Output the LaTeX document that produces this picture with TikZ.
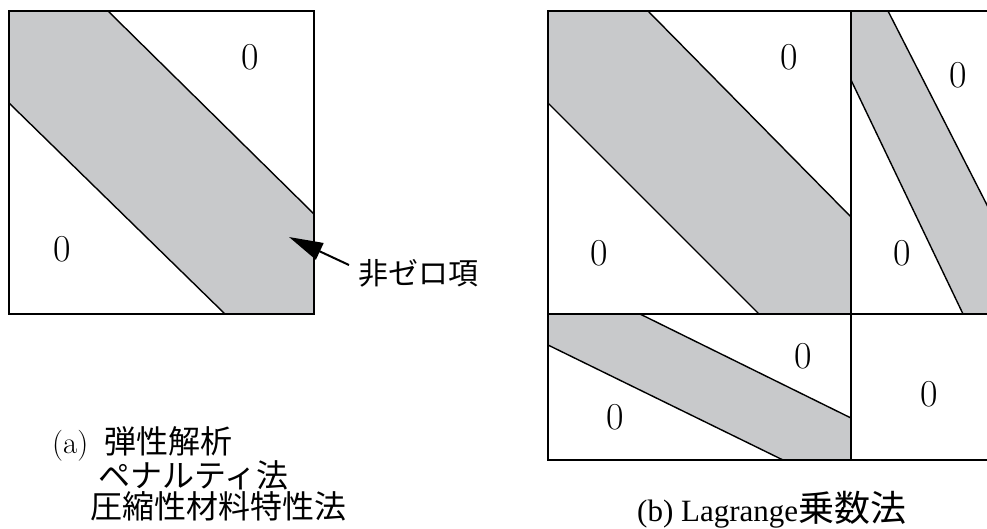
\documentclass[tikz,border=0pt]{standalone}
\usepackage{fontspec}
\newfontfamily\jp{Noto Sans CJK JP}
\newfontfamily\capser{Liberation Serif}
\usetikzlibrary{arrows.meta}
\definecolor{bandgray}{RGB}{200,201,203}
\begin{document}
\begin{tikzpicture}[x=1pt,y=-1pt,
  boxline/.style={line width=2pt,line join=miter},
  edge/.style={line width=1.4pt},
  bandfill/.style={fill=bandgray},
  zero/.style={inner sep=0pt,font=\fontsize{38}{40}\selectfont},
  lat/.style={anchor=base west,inner sep=0pt},
  arr/.style={line width=2pt,-{Triangle[length=34pt,width=18pt]}}]
\useasboundingbox (0,0) rectangle (987,528);
\clip (0,0) rectangle (987,528);

% ---------- (a) ----------
\fill[bandfill] (9,11) -- (108,11) -- (314,214) -- (314,314) -- (225,314) -- (9,103) -- cycle;
\draw[edge] (108,11) -- (314,214);
\draw[edge] (9,103) -- (225,314);
\draw[boxline] (9,11) rectangle (314,314);
\node[zero] (za1) at (250,57) {0};
\node[zero] (za2) at (62,249) {0};

\node[lat,font=\jp\fontsize{30}{30}\selectfont] (lblA) at (358,284) {非ゼロ項};
\coordinate (tailA) at (349,265);
\coordinate (tipA) at (289,237);
\draw[arr] (tailA) -- (tipA);

\node[lat,font=\fontsize{31}{31}\selectfont] (capa) at (52,453) {(a)};
\node[lat,font=\jp\fontsize{32}{32}\selectfont] (capa1) at (104,453) {弾性解析};
\node[lat,font=\jp\fontsize{32}{32}\selectfont] (capa2) at (98,487) {ペナルティ法};
\node[lat,font=\jp\fontsize{32}{32}\selectfont] (capa3) at (90,518) {圧縮性材料特性法};

% ---------- (b) ----------
% top-left block
\fill[bandfill] (548,11) -- (648,11) -- (851,217) -- (851,314) -- (759,314) -- (548,103) -- cycle;
\draw[edge] (648,11) -- (851,217);
\draw[edge] (548,103) -- (759,314);
% top-right block
\fill[bandfill] (851,11) -- (888,11) -- (1000,230.5) -- (1000,314) -- (963,314) -- (851,80) -- cycle;
\draw[edge] (888,11) -- (1000,230.5);
\draw[edge] (851,80) -- (963,314);
% bottom-left block
\fill[bandfill] (548,314) -- (640,314) -- (851,418) -- (851,460) -- (783,460) -- (548,345) -- cycle;
\draw[edge] (640,314) -- (851,418);
\draw[edge] (548,345) -- (783,460);
% frames
\draw[boxline] (548,11) rectangle (1000,460);
\draw[boxline] (851,11) -- (851,460);
\draw[boxline] (548,314) -- (1000,314);

\node[zero] (zb1) at (789.5,57) {0};
\node[zero] (zb2) at (599.5,253) {0};
\node[zero] (zb3) at (958,75) {0};
\node[zero] (zb4) at (902,253) {0};
\node[zero] (zb5) at (803,356) {0};
\node[zero] (zb6) at (615,417) {0};
\node[zero] (zb7) at (929,394) {0};

\node[lat,font=\capser\fontsize{31}{31}\selectfont] (capb) at (637,521) {(b) Lagrange};
\node[lat,font=\jp\fontsize{36}{36}\selectfont] (capb2) at (capb.base east) {乗数法};
\end{tikzpicture}
\end{document}
